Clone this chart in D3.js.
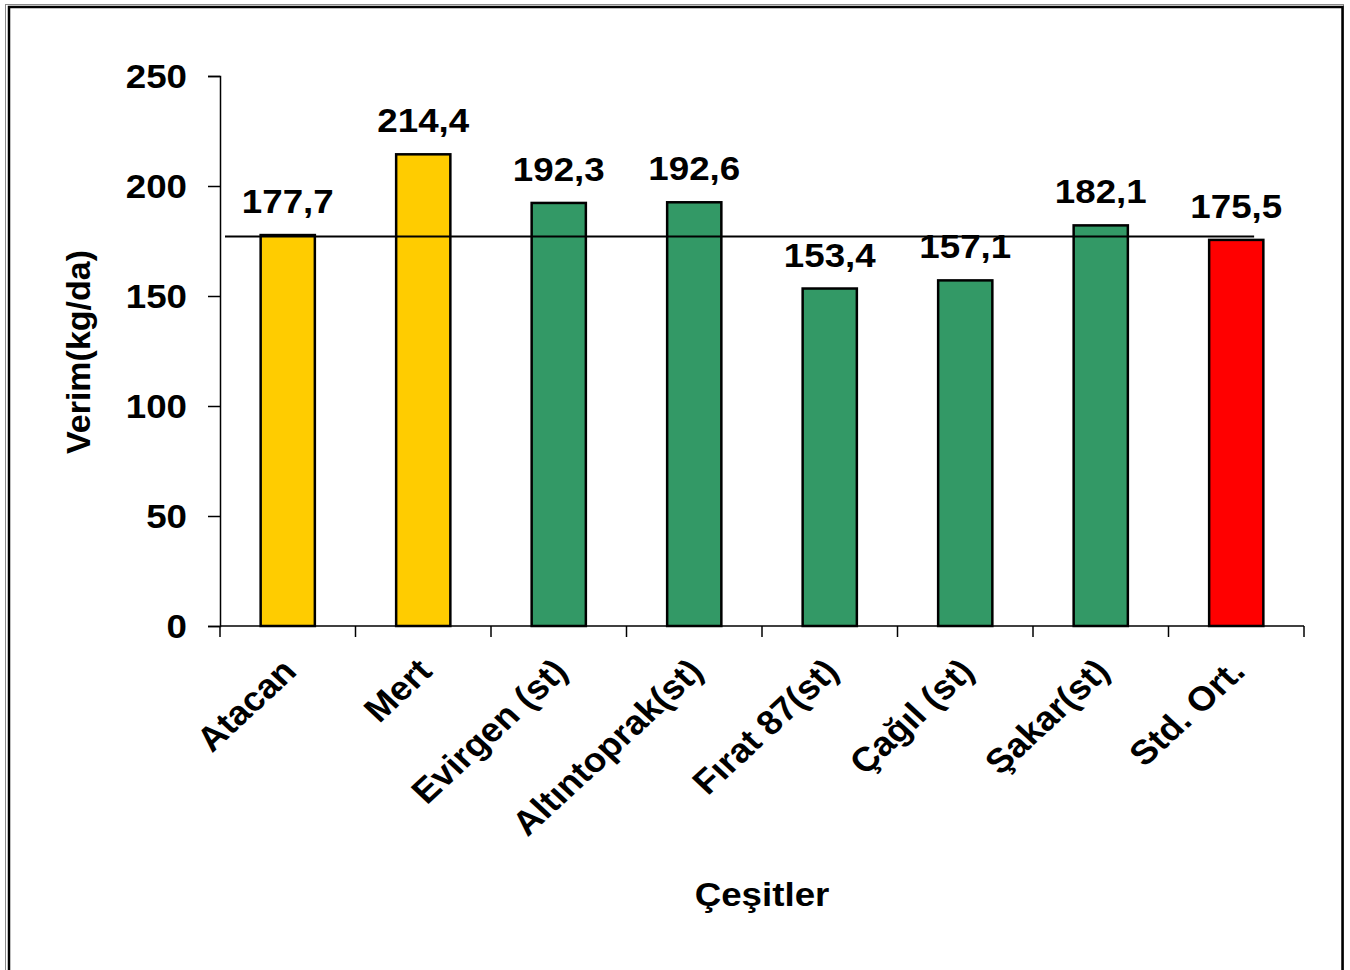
<!DOCTYPE html>
<html>
<head>
<meta charset="utf-8">
<script src="https://cdn.jsdelivr.net/npm/d3@7"></script>
<style>
  html, body { margin: 0; padding: 0; background: #fff; }
  svg { display: block; }
  text { font-family: "Liberation Sans", Arial, sans-serif; font-weight: bold; fill: #000; }
</style>
</head>
<body>
<svg id="chart" width="1350" height="970"></svg>
<script>
// Cultivars and their yields (kg/da)
const categories = ["Atacan", "Mert", "Evirgen (st)", "Altıntoprak(st)", "Fırat 87(st)", "Çağıl (st)", "Şakar(st)", "Std. Ort."];
const values = [177.7, 214.4, 192.3, 192.6, 153.4, 157.1, 182.1, 175.5];
// new lines, standard cultivars, standards' mean
const groups = ["yeni", "yeni", "st", "st", "st", "st", "st", "ort"];
const groupColors = { yeni: "#FFCC00", st: "#339966", ort: "#FF0000" };
const yTicks = [0, 50, 100, 150, 200, 250];
const referenceValue = 177;
const yTitle = "Verim(kg/da)";
const xTitle = "Çeşitler";

const svg = d3.select("#chart");
const sx = 1.08;          // horizontal text stretch
const fontSize = 34;

// Frame
svg.append("rect").attr("x", 5.5).attr("y", 4.5).attr("width", 1338).attr("height", 990)
  .attr("fill", "none").attr("stroke", "#8a8a8a").attr("stroke-width", 1);
svg.append("rect").attr("x", 9).attr("y", 7).attr("width", 1333.5).attr("height", 990)
  .attr("fill", "none").attr("stroke", "#000").attr("stroke-width", 2.5);

const plot = { left: 220, right: 1304, top: 76, bottom: 626 };

const x = d3.scaleBand().domain(categories).range([plot.left, plot.right])
  .paddingInner(0.6).paddingOuter(0.3);
const y = d3.scaleLinear().domain([0, 250]).range([plot.bottom, plot.top]);

const fmt = d3.formatLocale({ decimal: ",", thousands: ".", grouping: [3], currency: ["", ""] }).format(".1f");

// Bars
svg.append("g").selectAll("rect").data(values).join("rect")
  .attr("x", (d, i) => x(categories[i]))
  .attr("y", d => y(d))
  .attr("width", x.bandwidth())
  .attr("height", d => y(0) - y(d))
  .attr("fill", (d, i) => groupColors[groups[i]])
  .attr("stroke", "#000").attr("stroke-width", 2.5);

// Reference line at the standards' level
const lastCat = categories[categories.length - 1];
svg.append("line")
  .attr("x1", plot.left + 5)
  .attr("x2", x(lastCat) + x.bandwidth() * 0.83)
  .attr("y1", y(referenceValue)).attr("y2", y(referenceValue))
  .attr("stroke", "#000").attr("stroke-width", 2);

// Y axis
const yAxis = svg.append("g").attr("transform", `translate(${plot.left},0)`)
  .call(d3.axisLeft(y).tickValues(yTicks).tickSize(12).tickPadding(0).tickFormat(d3.format("d")));
yAxis.select(".domain").attr("stroke", "#000").attr("stroke-width", 1.5);
yAxis.selectAll(".tick line").attr("stroke", "#000").attr("stroke-width", 1.5);
yAxis.selectAll(".tick text")
  .attr("x", null).attr("dy", null)
  .attr("font-size", fontSize).attr("font-family", null)
  .attr("text-anchor", "end")
  .attr("transform", `translate(-33,11) scale(${sx},1)`);

// X axis: ticks at category boundaries
const edges = categories.map(c => x(c) - x.step() * x.paddingOuter()).concat([plot.right]);
const xg = svg.append("g");
xg.append("line").attr("x1", plot.left).attr("x2", plot.right)
  .attr("y1", plot.bottom).attr("y2", plot.bottom)
  .attr("stroke", "#000").attr("stroke-width", 1.5);
xg.selectAll("line.tk").data(edges).join("line").attr("class", "tk")
  .attr("x1", d => d).attr("x2", d => d)
  .attr("y1", plot.bottom).attr("y2", plot.bottom + 11)
  .attr("stroke", "#000").attr("stroke-width", 1.5);

// Rotated category labels
svg.append("g").selectAll("text").data(categories).join("text")
  .attr("font-size", fontSize)
  .attr("text-anchor", "end")
  .attr("dy", "0.72em")
  .attr("transform", d => `translate(${x(d) + x.bandwidth() / 2 - 8},656) scale(${sx},1) rotate(-45)`)
  .text(d => d);

// Value labels
svg.append("g").selectAll("text").data(values).join("text")
  .attr("font-size", fontSize)
  .attr("text-anchor", "middle")
  .attr("transform", (d, i) => `translate(${x(categories[i]) + x.bandwidth() / 2},${y(d) - 22}) scale(${sx},1)`)
  .text(d => fmt(d));

// Axis titles
svg.append("text")
  .attr("font-size", fontSize)
  .attr("text-anchor", "middle")
  .attr("transform", `translate(90,352) rotate(-90)`)
  .text(yTitle);

svg.append("text")
  .attr("font-size", fontSize)
  .attr("text-anchor", "middle")
  .attr("transform", `translate(${(plot.left + plot.right) / 2},906) scale(${sx},1)`)
  .text(xTitle);
</script>
</body>
</html>
